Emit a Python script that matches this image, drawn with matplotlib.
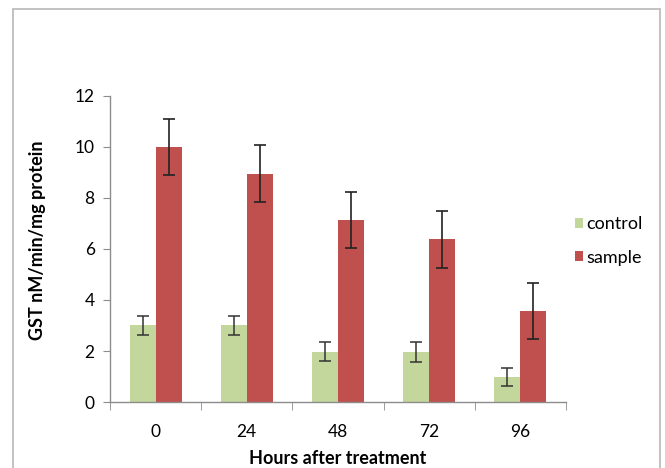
import numpy as np
import matplotlib
matplotlib.use("Agg")
import matplotlib.pyplot as plt
from matplotlib.patches import Rectangle

plt.rcParams['font.family'] = ['Lato', 'DejaVu Sans']

# data
hours = ['0', '24', '48', '72', '96']
control = [3.0, 3.0, 1.97, 1.97, 0.98]
control_err = [0.37, 0.37, 0.38, 0.39, 0.37]
sample = [10.0, 8.95, 7.15, 6.38, 3.58]
sample_err = [1.1, 1.12, 1.1, 1.12, 1.1]

green = '#C3D69B'
red = '#C0504D'

fig = plt.figure(figsize=(6.65, 4.68), dpi=100)
ax = fig.add_axes([0.1654, 0.141, 0.6856, 0.654])

x = np.arange(len(hours))
w = 0.285
ax.bar(x - w/2, control, w, color=green, label='control',
       yerr=control_err, error_kw=dict(ecolor='#333333', capsize=4, elinewidth=1.1, capthick=1.1))
ax.bar(x + w/2, sample, w, color=red, label='sample',
       yerr=sample_err, error_kw=dict(ecolor='#222222', capsize=4, elinewidth=1.2, capthick=1.2))

ax.set_xlim(-0.5, len(hours) - 0.5)
ax.set_ylim(0, 12)
ax.set_yticks([0, 2, 4, 6, 8, 10, 12])
ax.set_xticks(x)
ax.set_xticklabels(hours)
ax.set_xticks(np.arange(-0.5, len(hours)), minor=True)

for s in ['top', 'right']:
    ax.spines[s].set_visible(False)
for s in ['left', 'bottom']:
    ax.spines[s].set_color('#8C8C8C')
    ax.spines[s].set_linewidth(1.0)

ax.tick_params(axis='y', direction='out', length=5, color='#8C8C8C', labelsize=12.5, pad=6)
ax.tick_params(axis='x', which='major', length=0, labelsize=12.5, pad=16)
ax.tick_params(axis='x', which='minor', direction='out', length=6, color='#8C8C8C')

ax.set_xlabel('Hours after treatment', fontsize=13, fontweight='bold', labelpad=7)
ax.set_ylabel('GST nM/min/mg protein', fontsize=13, fontweight='bold', labelpad=21, y=0.53)

ax.legend(loc='center left', bbox_to_anchor=(1.019, 0.526), frameon=False,
          fontsize=13, handlelength=0.45, handleheight=0.45, handletextpad=0.2,
          labelspacing=0.95, borderpad=0, borderaxespad=0)

# outer chart border
fig.patches.append(Rectangle((13/665, -0.05), 647/665, 1.05 - 9.5/468,
                             transform=fig.transFigure, fill=False,
                             edgecolor='#BDBDBD', linewidth=1.3))

fig.savefig('out.png', dpi=100)
